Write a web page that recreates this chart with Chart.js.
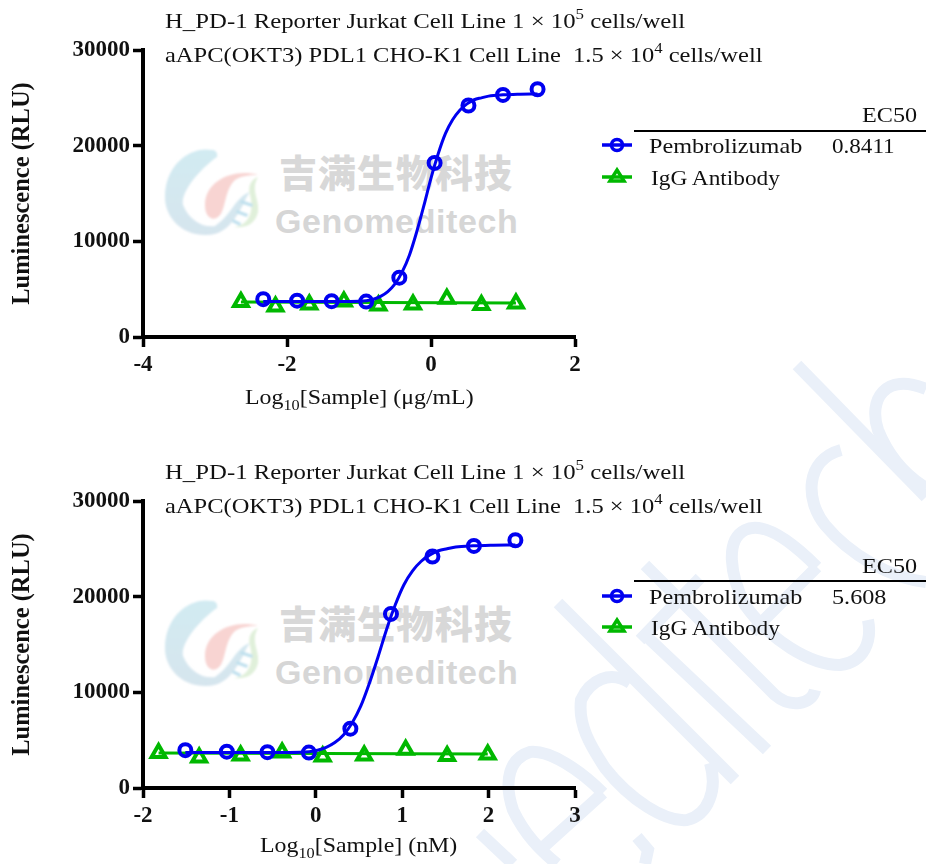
<!DOCTYPE html>
<html><head><meta charset="utf-8">
<script src="https://cdn.jsdelivr.net/npm/chart.js@4/dist/chart.umd.min.js"></script>
<style>
html,body{margin:0;padding:0;background:#fff;width:926px;height:864px;overflow:hidden}
#page{position:relative;width:926px;height:864px;font-family:"Liberation Serif",serif;color:#111}
canvas{position:absolute;left:0}
.t{position:absolute;white-space:pre;font-size:22px;line-height:26px;transform:scaleX(1.1);transform-origin:left center}
.l1{transform:scaleX(1.125)}
.l2{transform:scaleX(1.113)}
.lx{transform:scaleX(1.085)}
.ig{transform:scaleX(1.06)}
.ec{transform:scaleX(1.05)}
sup{font-size:15px;line-height:0;vertical-align:9px}
sub{font-size:15px;line-height:0;vertical-align:-6px}
.rule{position:absolute;height:2px;background:#000}
svg{position:absolute;left:0;top:0}
.wm{position:absolute;white-space:pre}
.cn{font:900 38px/44px 'Noto Sans CJK SC';color:#d8d8d8;letter-spacing:1px}
.en{font:bold 34px/38px 'Liberation Sans';color:#d6d6d6;letter-spacing:.6px}
</style></head><body><div id="page">
<svg id="bg" width="926" height="864" fill="none" stroke="#eaf0f9" stroke-width="12">
<path d="M797 365 L926 497"/>
<path d="M926 389 C885 372 868 400 878 430 C888 455 905 475 926 488"/>
<path d="M841 450 C805 460 805 500 825 525 C850 555 890 578 926 582"/>
<path d="M817 567 C795 545 765 520 745 530 C725 540 730 575 745 605 C770 640 810 665 840 665 C865 662 872 640 868 620 M817 567 L752 632"/>
<path d="M645 565 L775 695 C790 708 812 705 815 690 M700 578 L640 640"/>
<path d="M643 633 L767 750"/>
<path d="M558 603 L735 780"/>
<path d="M630 683 C610 670 590 680 581 700 C578 725 590 745 605 768 C630 800 665 822 687 820 C708 815 718 790 710 763"/>
<path d="M603 793 C580 770 550 750 530 752 C510 758 503 780 513 810 C525 835 540 850 557 864 M603 793 L540 850"/>
<path d="M637 837 L648 850 L645 864"/>
<path d="M480 833 L513 864"/>
</svg>
<svg width="926" height="864" id="logo"><defs>
<filter id="bl"><feGaussianBlur stdDeviation="0.8"/></filter>
<linearGradient id="gb" x1="0" y1="0" x2="0" y2="1"><stop offset="0" stop-color="#d2ebf2"/><stop offset="1" stop-color="#d6e5ee"/></linearGradient>
</defs><g id="lg" filter="url(#bl)"></g></svg>
<div class="wm cn" style="left:279px;top:149px">吉满生物科技</div>
<div class="wm en" style="left:275px;top:202px">Genomeditech</div>
<div class="wm cn" style="left:279px;top:600px">吉满生物科技</div>
<div class="wm en" style="left:275px;top:653px">Genomeditech</div>
<canvas id="c1" style="top:0"></canvas>
<canvas id="c2" style="top:450px"></canvas>

<div class="t l1" style="left:165px;top:8px">H_PD-1 Reporter Jurkat Cell Line 1 × 10<sup>5</sup> cells/well</div>
<div class="t l2" style="left:165px;top:42px">aAPC(OKT3) PDL1 CHO-K1 Cell Line  1.5 × 10<sup>4</sup> cells/well</div>
<div class="t lx" style="left:245px;top:384px">Log<sub>10</sub>[Sample] (μg/mL)</div>
<div class="t" style="left:862px;top:102px">EC50</div>
<div class="rule" style="left:634px;top:130px;width:292px"></div>
<div class="t" style="left:649px;top:133px">Pembrolizumab</div>
<div class="t ec" style="left:832px;top:133px">0.8411</div>
<div class="t ig" style="left:651px;top:165px">IgG Antibody</div>

<div class="t l1" style="left:165px;top:459px">H_PD-1 Reporter Jurkat Cell Line 1 × 10<sup>5</sup> cells/well</div>
<div class="t l2" style="left:165px;top:493px">aAPC(OKT3) PDL1 CHO-K1 Cell Line  1.5 × 10<sup>4</sup> cells/well</div>
<div class="t lx" style="left:260px;top:832px">Log<sub>10</sub>[Sample] (nM)</div>
<div class="t" style="left:862px;top:553px">EC50</div>
<div class="rule" style="left:634px;top:580px;width:292px"></div>
<div class="t" style="left:649px;top:584px">Pembrolizumab</div>
<div class="t" style="left:832px;top:584px">5.608</div>
<div class="t ig" style="left:651px;top:615px">IgG Antibody</div>

<svg width="926" height="864" id="leg" fill="none">
<g stroke-width="3.5">
<path d="M602 145H632" stroke="#0000f0"/><circle cx="617" cy="145" r="5.5" stroke="#0000f0"/>
<path d="M602 177H632" stroke="#00b800"/><path d="M617 170L624 181H610Z" stroke="#00b800"/>
<path d="M602 596H632" stroke="#0000f0"/><circle cx="617" cy="596" r="5.5" stroke="#0000f0"/>
<path d="M602 627H632" stroke="#00b800"/><path d="M617 620L624 631H610Z" stroke="#00b800"/>
</g></svg>
</div>
<script>
// Top panel: log10 concentration in µg/mL
const logUgBlue  = [-2.33,-1.86,-1.38,-0.90,-0.44,0.05,0.52,1.00,1.48];
const logUgGreen = [-2.64,-2.16,-1.69,-1.21,-0.73,-0.25,0.22,0.70,1.18];
// Bottom panel: log10 concentration in nM
const logNmBlue  = [-1.51,-1.03,-0.56,-0.08,0.40,0.87,1.35,1.83,2.31];
const logNmGreen = [-1.82,-1.35,-0.87,-0.39,0.08,0.56,1.04,1.52,1.99];
// Luminescence readings (same plate, both panels)
const rluBlue  = [3950,3800,3750,3700,6200,18200,24200,25300,25900];
const rluGreen = [3650,3200,3400,3700,3300,3400,4000,3350,3500];
// Fitted curves
const fitUgX = [-2.33,-1.8,-1.3,-1.0,-0.8,-0.7,-0.6,-0.5,-0.4,-0.3,-0.2,-0.1,0,0.1,0.2,0.3,0.4,0.5,0.6,0.7,0.8,1.0,1.2,1.48];
const fitNmX = [-1.51,-0.98,-0.48,-0.18,0.02,0.12,0.22,0.32,0.42,0.52,0.62,0.72,0.82,0.92,1.02,1.12,1.22,1.32,1.42,1.52,1.62,1.82,2.02,2.31];
const fitY   = [3700,3700,3700,3730,3950,4250,4750,5550,6800,8550,10950,13700,16600,19150,21250,22700,23700,24370,24800,25000,25180,25310,25370,25400];
const flatUgX = [-2.64,1.18];
const flatNmX = [-1.82,1.99];
const flatY   = [3650,3550];
const ticksY = [0,10000,20000,30000];
const ticksUg = [-4,-2,0,2];
const ticksNm = [-2,-1,0,1,2,3];

const BLUE='#0000f0', GREEN='#00b800';
function pts(xs,ys){return xs.map((x,i)=>({x,y:ys[i]}));}
function make(id,h,top,xMin,xMax,ticksX,bx,gx,fx,lx){
  const c=document.getElementById(id);
  new Chart(c,{type:'scatter',
    data:{datasets:[
      {data:pts(fx,fitY),showLine:true,borderColor:BLUE,borderWidth:3,pointRadius:0,cubicInterpolationMode:'monotone',order:1},
      {data:pts(bx,rluBlue),showLine:false,pointStyle:'circle',pointRadius:6,borderWidth:4,pointBorderColor:BLUE,pointBackgroundColor:'rgba(0,0,0,0)',order:0},
      {data:pts(lx,flatY),showLine:true,borderColor:GREEN,borderWidth:3,pointRadius:0,order:3},
      {data:pts(gx,rluGreen),showLine:false,pointStyle:'triangle',pointRadius:8,borderWidth:4,pointBorderColor:GREEN,pointBackgroundColor:'rgba(0,0,0,0)',order:2}
    ]},
    options:{responsive:false,animation:false,devicePixelRatio:1,
      layout:{padding:{left:0,top:top,right:926-575,bottom:0}},
      plugins:{legend:{display:false},tooltip:{enabled:false},title:{display:false}},
      scales:{
        x:{type:'linear',min:xMin,max:xMax,afterFit:s=>{s.height=h-top-287;},
          afterBuildTicks:s=>{s.ticks=ticksX.map(v=>({value:v}));},
          border:{display:true,width:4,color:'#000'},
          grid:{drawOnChartArea:false,drawTicks:true,tickLength:10,tickWidth:3.5,tickColor:'#000'},
          ticks:{color:'#111',padding:4,maxRotation:0,font:{family:'Liberation Serif',size:23,weight:'bold'},callback:v=>String(v)}},
        y:{type:'linear',min:0,max:30000,afterFit:s=>{s.width=143;},
          afterBuildTicks:s=>{s.ticks=ticksY.map(v=>({value:v}));},
          border:{display:true,width:4,color:'#000'},
          grid:{drawOnChartArea:false,drawTicks:true,tickLength:10,tickWidth:3.5,tickColor:'#000'},
          title:{display:true,text:'Luminescence (RLU)',color:'#111',padding:{top:8,bottom:0},font:{family:'Liberation Serif',size:24.5,weight:'bold'}},
          ticks:{color:'#111',padding:3,font:{family:'Liberation Serif',size:23,weight:'bold'},callback:v=>String(v)}}
      }}});
  c.style.width='926px';
}
function sized(id,h){const c=document.getElementById(id);c.width=926;c.height=h;c.style.height=h+'px';}
sized('c1',430);sized('c2',414);
make('c1',430,50,-4,2,ticksUg,logUgBlue,logUgGreen,fitUgX,flatUgX);
make('c2',414,51,-2,3,ticksNm,logNmBlue,logNmGreen,fitNmX,flatNmX);

// Decorative logo of the watermark
const logoShapes=[
 ['url(#gb)','M212 150 C190 146 165 165 165 197 C165 220 185 236 207 235 C225 235 235 220 243 205 C246 198 248 194 250 192 C235 197 232 215 215 226 C205 228 190 222 183 205 C180 190 205 165 217 157 C218 152 215 150 212 150 Z'],
 ['#f8d4d2','M258 175 C235 168 205 180 205 205 C205 218 213 221 218 217 C226 212 224 190 235 180 C243 175 252 175 258 175 Z'],
 ['#e0f0da','M258 177 C250 190 260 200 258 212 C255 225 245 228 234 227 C250 225 254 210 250 195 C248 187 250 180 258 177 Z'],
 ['#bfe0ee','M241 200 L253 204 L252 207 L240 203 Z M237 210 L248 214 L247 217 L236 213 Z M233 219 L241 223 L240 226 L232 222 Z']
];
for(const dy of [0,451]) for(const [f,d] of logoShapes){
  const p=document.createElementNS('http://www.w3.org/2000/svg','path');
  p.setAttribute('d',d);p.setAttribute('fill',f);p.setAttribute('transform','translate(0 '+dy+')');
  document.getElementById('lg').appendChild(p);
}
</script></body></html>
